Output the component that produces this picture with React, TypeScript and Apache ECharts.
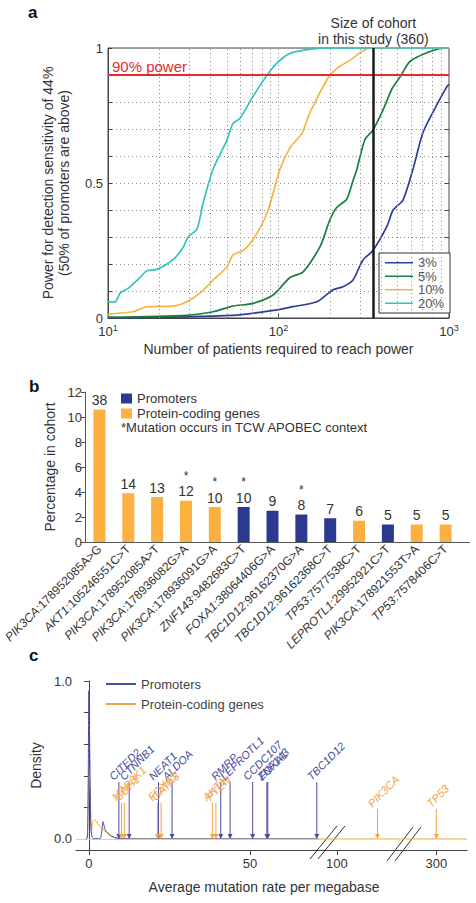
import React, { useEffect, useRef } from 'react';
import * as echarts from 'echarts';

// ---------- Panel a data: power curves (patients, power) ----------
const powerLevels = ['3%', '5%', '10%', '20%'];
const power3 = [[10, 0], [54, 0.01], [97.9, 0.03], [121.6, 0.042], [168, 0.06], [208, 0.104], [239, 0.116], [273, 0.14], [313, 0.215], [358, 0.25], [433, 0.34], [470, 0.4], [537, 0.437], [614, 0.55], [702, 0.685], [802, 0.76], [970, 0.856], [1000, 0.865]];
const power5 = [[10, 0.003], [29, 0.01], [41.3, 0.023], [54, 0.044], [70.8, 0.054], [92.9, 0.085], [116.7, 0.15], [139, 0.17], [175.3, 0.264], [200, 0.363], [220, 0.41], [251, 0.44], [274, 0.51], [288, 0.55], [321, 0.66], [358, 0.696], [410, 0.77], [464, 0.85], [518, 0.894], [590, 0.95], [776, 0.987], [970, 1], [1000, 1]];
const power10 = [[10, 0.012], [10.3, 0.015], [14, 0.023], [17, 0.042], [24, 0.044], [29, 0.06], [34.6, 0.092], [41.3, 0.14], [49.9, 0.19], [54, 0.233], [62, 0.25], [70.8, 0.29], [85.8, 0.39], [101.9, 0.55], [116.7, 0.63], [137.5, 0.685], [152.7, 0.76], [195.6, 0.89], [221, 0.925], [263.5, 0.955], [313, 0.99], [354, 1], [1000, 1]];
const power20 = [[10, 0.06], [11, 0.06], [11.8, 0.093], [13.1, 0.11], [15.4, 0.15], [16.9, 0.175], [19.4, 0.18], [24, 0.215], [27.5, 0.26], [29.5, 0.3], [33.3, 0.33], [36.1, 0.425], [41.3, 0.55], [49.9, 0.66], [54, 0.72], [59.5, 0.74], [70.8, 0.82], [85.8, 0.9], [97.9, 0.944], [116.7, 0.98], [152, 0.995], [208, 1], [1000, 1]];
const cohortSize = 360;
const powerTarget = 0.9;
const minorGridPatients = [20, 30, 40, 50, 60, 70, 80, 90, 100, 200, 300, 400, 500, 600, 700, 800, 900];

// ---------- Panel b data ----------
const mutations = ['PIK3CA:178952085A>G', 'AKT1:105246551C>T', 'PIK3CA:178952085A>T', 'PIK3CA:178936082G>A', 'PIK3CA:178936091G>A', 'ZNF143:9482683C>T', 'FOXA1:38064406G>A', 'TBC1D12:96162370G>A', 'TBC1D12:96162368C>T', 'TP53:7577538C>T', 'LEPROTL1:29952921C>T', 'PIK3CA:178921553T>A', 'TP53:7578406C>T'];
const mutationType = ['coding', 'coding', 'coding', 'coding', 'coding', 'promoter', 'promoter', 'promoter', 'promoter', 'coding', 'promoter', 'coding', 'coding'];
const patientCounts = [38, 14, 13, 12, 10, 10, 9, 8, 7, 6, 5, 5, 5];
const cohortPercent = [10.6, 3.9, 3.6, 3.3, 2.8, 2.8, 2.5, 2.2, 1.9, 1.7, 1.4, 1.4, 1.4];
const apobecContext = [false, false, false, true, true, true, false, true, false, false, false, false, false];

// ---------- Panel c data ----------
const promoterDensity = [[-1, 0], [-0.4, 0.01], [0, 0.94], [0.3, 0.5], [0.6, 0.08], [1, 0.01], [1.5, 0.002], [3.4, 0.002], [4, 0.05], [4.4, 0.11], [5, 0.06], [6, 0.035], [7, 0.02], [8, 0.008], [10, 0.002], [15, 0], [71, 0]];
const codingDensity = [[-1, 0], [-0.5, 0.02], [0, 0.45], [0.4, 0.3], [0.8, 0.05], [1.3, 0.11], [1.9, 0.12], [2.9, 0.09], [3.9, 0.07], [5.5, 0.04], [7.5, 0.01], [10, 0.002], [15, 0], [72, 0]];
const codingDensityMid = [[95, 0], [121, 0]];
const codingDensityHigh = [[290, 0], [309.5, 0]];
const promoterGenes = ['CITED2', 'CTNNB1', 'NEAT1', 'ALDOA', 'RMRP', 'LEPROTL1', 'CCDC107', 'ZNF143', 'FOXA1', 'TBC1D12'];
const promoterRates = [9.3, 12.5, 21.6, 25.8, 40.9, 43.8, 50.8, 55.2, 55.5, 70.7];
const codingGenes = ['MAP3K1', 'CDH1', 'FOXA1', 'GATA3', 'AKT1', 'PTEN', 'PIK3CA', 'TP53'];
const codingRates = [10.1, 11.0, 21.3, 22.4, 38.3, 39.4, 112.7, 300];

const FONT = '"Liberation Sans", Arial, sans-serif';
const BLUE_BAR = '#2b3990';
const ORANGE_BAR = '#fbb040';
const C_BLUE = '#484c9e';
const C_ORANGE = '#f4a444';
const curveColors = ['#2e3d99', '#17803f', '#f8b545', '#34c4c0'];

function arrowSeries(xIdx: number, yIdx: number, genes: string[], rates: number[], color: string, lo: number, hi: number, arrowTop: number) {
  const items = genes.map((g, i) => ({ g, r: rates[i] })).filter((d) => d.r >= lo && d.r <= hi);
  return {
    type: 'custom',
    xAxisIndex: xIdx,
    yAxisIndex: yIdx,
    z: 6,
    silent: true,
    data: items.map((d) => [d.r, arrowTop]),
    renderItem: (params: any, api: any) => {
      const item = items[params.dataIndex];
      const base = api.coord([api.value(0), 0]);
      const tp = api.coord([api.value(0), api.value(1)]);
      return {
        type: 'group',
        children: [
          { type: 'line', shape: { x1: tp[0], y1: tp[1], x2: base[0], y2: base[1] - 3 }, style: { stroke: color, lineWidth: 1 } },
          { type: 'polygon', shape: { points: [[base[0] - 2.5, base[1] - 5], [base[0] + 2.5, base[1] - 5], [base[0], base[1]]] }, style: { fill: color } },
          {
            type: 'text', x: tp[0] - 4, y: tp[1], rotation: Math.PI / 4,
            style: { text: item.g, fill: color, font: `italic 11px ${FONT}`, align: 'left', verticalAlign: 'bottom' },
          },
        ],
      };
    },
  };
}

function buildOption() {
  const curves = [power3, power5, power10, power20];
  const series: any[] = [];

  series.push({
    type: 'line', xAxisIndex: 0, yAxisIndex: 0, data: [], z: 1, silent: true,
    markLine: {
      silent: true, symbol: ['none', 'none'], animation: false,
      label: { show: false },
      lineStyle: { type: [1, 3], color: '#8a8a8a', width: 1 },
      data: minorGridPatients.map((v) => ({ xAxis: v })),
    },
  });
  curves.forEach((c, i) => {
    series.push({
      type: 'line', name: powerLevels[i], xAxisIndex: 0, yAxisIndex: 0, data: c,
      showSymbol: false, smooth: 0.25, z: 3,
      lineStyle: { color: curveColors[i], width: 1.7 }, itemStyle: { color: curveColors[i] },
    });
  });
  series.push({
    type: 'line', xAxisIndex: 0, yAxisIndex: 0, data: [], z: 4, silent: true,
    markLine: {
      silent: true, symbol: ['none', 'none'], animation: false,
      data: [
        {
          yAxis: powerTarget, lineStyle: { color: '#e52a2f', width: 2, type: 'solid' },
          label: { show: true, position: 'insideStartTop', formatter: '90% power', color: '#e52a2f', fontSize: 15, fontFamily: FONT, distance: [4, 1] },
        },
        {
          xAxis: cohortSize, lineStyle: { color: '#1a1a1a', width: 2.5, type: 'solid' },
          label: { show: true, position: 'end', formatter: 'Size of cohort\nin this study (360)', color: '#333', fontSize: 14, lineHeight: 16, fontFamily: FONT, distance: 1 },
        },
      ],
    },
  });

  const barLabel = (p: any) => {
    const i = p.dataIndex;
    return apobecContext[i] ? `{s|*}\n{n|${patientCounts[i]}}` : `{n|${patientCounts[i]}}`;
  };
  const barRich = {
    s: { fontSize: 12, lineHeight: 16, color: '#333', fontFamily: FONT },
    n: { fontSize: 14, lineHeight: 15, color: '#333', fontFamily: FONT },
  };
  series.push({
    type: 'bar', name: 'Promoters', xAxisIndex: 1, yAxisIndex: 2, barWidth: 12,
    data: cohortPercent.map((v, i) => (mutationType[i] === 'promoter' ? v : '-')),
    itemStyle: { color: BLUE_BAR },
    label: { show: true, position: 'top', distance: 2, formatter: barLabel, rich: barRich },
  });
  series.push({
    type: 'bar', name: 'Protein-coding genes', xAxisIndex: 1, yAxisIndex: 2, barWidth: 12, barGap: '-100%',
    data: cohortPercent.map((v, i) => (mutationType[i] === 'coding' ? v : '-')),
    itemStyle: { color: ORANGE_BAR },
    label: { show: true, position: 'top', distance: 2, formatter: barLabel, rich: barRich },
  });

  series.push({
    type: 'line', name: 'c:Protein-coding genes', xAxisIndex: 2, yAxisIndex: 3, data: codingDensity,
    showSymbol: false, smooth: 0.3, z: 3, lineStyle: { color: C_ORANGE, width: 1 }, itemStyle: { color: C_ORANGE },
    markLine: {
      silent: true, symbol: ['none', 'none'], label: { show: false },
      lineStyle: { color: '#cfcfcf', width: 1, type: 'solid' }, data: [{ yAxis: 0 }],
    },
  });
  series.push({
    type: 'line', name: 'c:Promoters', xAxisIndex: 2, yAxisIndex: 3, data: promoterDensity,
    showSymbol: false, smooth: 0.3, z: 4, lineStyle: { color: C_BLUE, width: 1 }, itemStyle: { color: C_BLUE },
  });
  series.push({
    type: 'line', name: 'c:Protein-coding genes', xAxisIndex: 3, yAxisIndex: 4, data: codingDensityMid,
    showSymbol: false, z: 3, lineStyle: { color: C_ORANGE, width: 1 }, itemStyle: { color: C_ORANGE },
  });
  series.push({
    type: 'line', name: 'c:Protein-coding genes', xAxisIndex: 4, yAxisIndex: 5, data: codingDensityHigh,
    showSymbol: false, z: 3, lineStyle: { color: C_ORANGE, width: 1 }, itemStyle: { color: C_ORANGE },
  });
  series.push(arrowSeries(2, 3, promoterGenes, promoterRates, C_BLUE, -4, 72, 0.36));
  series.push(arrowSeries(2, 3, codingGenes, codingRates, C_ORANGE, -4, 72, 0.23));
  series.push(arrowSeries(3, 4, codingGenes, codingRates, C_ORANGE, 95, 121, 0.19));
  series.push(arrowSeries(4, 5, codingGenes, codingRates, C_ORANGE, 290, 309.5, 0.19));

  const near = (a: number, b: number) => Math.abs(a - b) < 1e-6;
  const cTickCommon = { fontSize: 13, color: '#333', fontFamily: FONT, margin: 7 };

  return {
    animation: false,
    textStyle: { fontFamily: FONT },
    grid: [
      { left: 108, top: 48, width: 341, height: 270, show: true, borderColor: '#444', borderWidth: 1, backgroundColor: 'transparent' },
      { left: 85, top: 392, width: 375, height: 150 },
      { left: 76, top: 681, width: 245, height: 169 },
      { left: 321, top: 681, width: 83, height: 169 },
      { left: 404, top: 681, width: 63, height: 169 },
    ],
    xAxis: [
      {
        gridIndex: 0, type: 'log', logBase: 10, min: 10, max: 1000,
        axisLine: { lineStyle: { color: '#444' } },
        axisTick: { inside: true, length: 4, lineStyle: { color: '#444' } },
        splitLine: { show: false },
        axisLabel: {
          margin: 5, color: '#333',
          formatter: (v: number) => `{b|10}{s|${Math.round(Math.log10(v))}}`,
          rich: { b: { fontSize: 13, color: '#333', fontFamily: FONT }, s: { fontSize: 9, color: '#333', fontFamily: FONT, padding: [0, 0, 8, 0] } },
        },
        name: 'Number of patients required to reach power', nameLocation: 'middle', nameGap: 24,
        nameTextStyle: { fontSize: 14, color: '#333', fontFamily: FONT },
      },
      {
        gridIndex: 1, type: 'category', data: mutations,
        axisLine: { lineStyle: { color: '#555' } }, axisTick: { show: false },
        axisLabel: {
          rotate: 45, interval: 0, margin: 5,
          formatter: (v: string) => { const k = v.indexOf(':'); return `{g|${v.slice(0, k)}}{r|${v.slice(k)}}`; },
          rich: { g: { fontSize: 12, fontStyle: 'italic', color: '#333', fontFamily: FONT }, r: { fontSize: 12, color: '#333', fontFamily: FONT } },
        },
      },
      {
        gridIndex: 2, type: 'value', min: -4, max: 72,
        axisLine: { show: true, onZero: false, lineStyle: { color: '#444' } },
        axisTick: { show: true, customValues: [0, 50], length: 5, lineStyle: { color: '#444' } },
        axisLabel: { ...cTickCommon, customValues: [0, 50] },
        splitLine: { show: false },
      },
      {
        gridIndex: 3, type: 'value', min: 95, max: 121,
        axisLine: { show: true, onZero: false, lineStyle: { color: '#444' } },
        axisTick: { show: true, customValues: [100], length: 5, lineStyle: { color: '#444' } },
        axisLabel: { ...cTickCommon, customValues: [100] },
        splitLine: { show: false },
      },
      {
        gridIndex: 4, type: 'value', min: 290, max: 309.5,
        axisLine: { show: true, onZero: false, lineStyle: { color: '#444' } },
        axisTick: { show: true, customValues: [300], length: 5, lineStyle: { color: '#444' } },
        axisLabel: { ...cTickCommon, customValues: [300] },
        splitLine: { show: false },
      },
    ],
    yAxis: [
      {
        gridIndex: 0, type: 'value', min: 0, max: 1, interval: 0.1,
        axisLine: { show: true, lineStyle: { color: '#444' } },
        axisTick: { show: true, inside: true, length: 4, lineStyle: { color: '#444' } },
        axisLabel: {
          fontSize: 13, color: '#333', margin: 5,
          formatter: (v: number) => (near(v, 0) ? '0' : near(v, 0.5) ? '0.5' : near(v, 1) ? '1' : ''),
        },
        splitLine: { show: true, lineStyle: { type: [1, 3], color: '#8a8a8a' } },
        name: 'Power for detection sensitivity of 44%\n(50% of promoters are above)', nameLocation: 'middle', nameGap: 36,
        nameTextStyle: { fontSize: 14, lineHeight: 16, color: '#333', fontFamily: FONT },
      },
      {
        gridIndex: 0, type: 'value', position: 'right', min: 0, max: 1, interval: 0.1,
        axisLine: { show: false }, axisTick: { show: true, inside: true, length: 4, lineStyle: { color: '#444' } },
        axisLabel: { show: false }, splitLine: { show: false },
      },
      {
        gridIndex: 1, type: 'value', min: 0, max: 12, interval: 2,
        axisLine: { show: true, lineStyle: { color: '#555' } },
        axisTick: { show: true, length: 4, lineStyle: { color: '#555' } },
        axisLabel: { fontSize: 13, color: '#333', margin: 3 },
        splitLine: { show: false },
        name: 'Percentage in cohort', nameLocation: 'middle', nameGap: 22,
        nameTextStyle: { fontSize: 14, color: '#333', fontFamily: FONT },
      },
      {
        gridIndex: 2, type: 'value', min: -0.07, max: 1,
        axisLine: { show: true, lineStyle: { color: '#444' } },
        axisTick: { show: true, length: 5, customValues: [0, 0.2, 0.4, 0.6, 0.8, 1], lineStyle: { color: '#444' } },
        axisLabel: { fontSize: 13, color: '#333', margin: 4, customValues: [0, 1], formatter: (v: number) => v.toFixed(1) },
        splitLine: { show: false },
        name: 'Density', nameLocation: 'middle', nameGap: 26,
        nameTextStyle: { fontSize: 14, color: '#333', fontFamily: FONT },
      },
      { gridIndex: 3, type: 'value', min: -0.07, max: 1, show: false },
      { gridIndex: 4, type: 'value', min: -0.07, max: 1, show: false },
    ],
    legend: [
      {
        data: powerLevels, orient: 'vertical', left: 379, top: 253, icon: 'rect', itemWidth: 28, itemHeight: 1.5, itemGap: 0,
        borderColor: '#333', borderWidth: 1, padding: [3, 6, 3, 6], backgroundColor: '#fff',
        textStyle: { fontSize: 13, color: '#555', lineHeight: 13.5, fontFamily: FONT }, selectedMode: false,
      },
      {
        data: ['Promoters', 'Protein-coding genes'], orient: 'vertical', left: 121, top: 392, icon: 'rect',
        itemWidth: 11, itemHeight: 10, itemGap: 2, padding: 0, selectedMode: false,
        textStyle: { fontSize: 13, color: '#333', lineHeight: 11, fontFamily: FONT },
      },
      {
        data: ['c:Promoters', 'c:Protein-coding genes'], orient: 'vertical', left: 106, top: 677, icon: 'rect',
        itemWidth: 30, itemHeight: 2, itemGap: 6, padding: 0, selectedMode: false,
        formatter: (n: string) => n.replace(/^c:/, ''),
        textStyle: { fontSize: 13, color: '#444', lineHeight: 14, fontFamily: FONT },
      },
    ],
    graphic: [
      { type: 'text', left: 28, top: 4, style: { text: 'a', font: `bold 17px ${FONT}`, fill: '#111' } },
      { type: 'text', left: 29, top: 378, style: { text: 'b', font: `bold 17px ${FONT}`, fill: '#111' } },
      { type: 'text', left: 29, top: 647, style: { text: 'c', font: `bold 17px ${FONT}`, fill: '#111' } },
      { type: 'text', x: 121, y: 427, style: { text: '*Mutation occurs in TCW APOBEC context', font: `13px ${FONT}`, fill: '#333', verticalAlign: 'middle' } },
      { type: 'line', shape: { x1: 460, y1: 542.5, x2: 470, y2: 542.5 }, style: { stroke: '#555', lineWidth: 1 } },
      { type: 'text', x: 264, y: 887, style: { text: 'Average mutation rate per megabase', font: `14px ${FONT}`, fill: '#333', align: 'center', verticalAlign: 'middle' } },
      { type: 'line', shape: { x1: 310, y1: 859, x2: 337, y2: 826 }, style: { stroke: '#333', lineWidth: 1 } },
      { type: 'line', shape: { x1: 318, y1: 859, x2: 345, y2: 826 }, style: { stroke: '#333', lineWidth: 1 } },
      { type: 'line', shape: { x1: 387, y1: 861, x2: 413, y2: 827 }, style: { stroke: '#333', lineWidth: 1 } },
      { type: 'line', shape: { x1: 395, y1: 861, x2: 421, y2: 827 }, style: { stroke: '#333', lineWidth: 1 } },
    ],
    series,
  };
}

export default function App() {
  const ref = useRef<HTMLDivElement>(null);
  useEffect(() => {
    const chart = echarts.init(ref.current as HTMLDivElement, null, { renderer: 'svg' });
    chart.setOption(buildOption() as any);
    return () => chart.dispose();
  }, []);
  return <div ref={ref} style={{ position: 'fixed', left: 0, top: 0, width: 476, height: 903, background: '#fff' }} />;
}
